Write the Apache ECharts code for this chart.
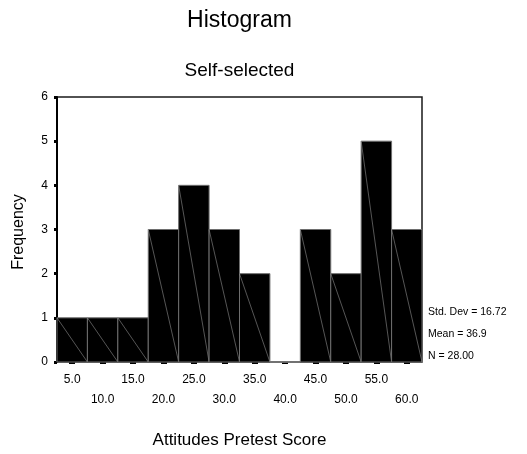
<!DOCTYPE html>
<html>
<head>
<meta charset="utf-8">
<script src="https://cdn.jsdelivr.net/npm/echarts@6/dist/echarts.min.js"></script>
<style>
  html, body { margin: 0; padding: 0; background: #fff; }
  #chart { width: 527px; height: 454px; }
</style>
</head>
<body>
<div id="chart"></div>
<script>
// Bin midpoints of the attitude score histogram and their counts
const binLabels = ['5.0', '10.0', '15.0', '20.0', '25.0', '30.0', '35.0', '40.0', '45.0', '50.0', '55.0', '60.0'];
const frequencies = [1, 1, 1, 3, 4, 3, 2, 0, 3, 2, 5, 3];
const yTicks = [0, 1, 2, 3, 4, 5, 6];
const statLines = ['Std. Dev = 16.72', 'Mean = 36.9', 'N = 28.00'];

const FONT = '"Liberation Sans", Arial, sans-serif';
const chart = echarts.init(document.getElementById('chart'), null, { renderer: 'canvas' });

const gridLeft = 57, gridTop = 97, gridRight = 105, gridBottom = 92;
const plotCenterX = gridLeft + (527 - gridLeft - gridRight) / 2;

chart.setOption({
  animation: false,
  backgroundColor: '#fff',
  grid: {
    left: gridLeft, top: gridTop, right: gridRight, bottom: gridBottom,
    show: true, borderColor: '#1a1a1a', borderWidth: 1.5, backgroundColor: 'transparent'
  },
  xAxis: {
    type: 'category',
    data: binLabels,
    boundaryGap: true,
    offset: 3,
    axisLine: { show: false },
    axisTick: { show: true, alignWithLabel: true, length: 2, lineStyle: { color: '#000', width: 6 } },
    axisLabel: {
      interval: 0, margin: 5, color: '#000', fontFamily: FONT, fontSize: 12, lineHeight: 20,
      verticalAlign: 'top',
      formatter: (v, i) => (i % 2 ? '\n' + v : v)
    },
    splitLine: { show: false }
  },
  yAxis: {
    type: 'value',
    min: yTicks[0], max: yTicks[yTicks.length - 1], interval: 1,
    axisLine: { show: true, lineStyle: { color: '#000', width: 2 } },
    axisTick: { show: true, length: 3, lineStyle: { color: '#000', width: 3 } },
    axisLabel: { margin: 9, color: '#000', fontFamily: FONT, fontSize: 12 },
    splitLine: { show: false }
  },
  series: [{
    type: 'custom',
    data: frequencies.map((f, i) => [i, f]),
    encode: { x: 0, y: 1 },
    clip: false,
    renderItem(params, api) {
      const idx = api.value(0);
      const val = api.value(1);
      const top = api.coord([idx, val]);
      const base = api.coord([idx, 0]);
      const w = api.size([1, 0])[0];
      const x0 = top[0] - w / 2;
      const x1 = top[0] + w / 2;
      return {
        type: 'group',
        children: [
          {
            type: 'rect',
            shape: { x: x0, y: top[1], width: w, height: base[1] - top[1] },
            style: { fill: '#000', stroke: '#6e6e6e', lineWidth: 1 }
          },
          {
            type: 'line',
            shape: { x1: x0, y1: top[1], x2: x1, y2: base[1] },
            style: { stroke: '#8f8f8f', lineWidth: 0.6 }
          }
        ]
      };
    }
  }],
  graphic: [
    { type: 'text', x: plotCenterX, y: 21, style: { text: 'Histogram', fill: '#000', font: '23px ' + FONT, textAlign: 'center', textVerticalAlign: 'middle' } },
    { type: 'text', x: plotCenterX, y: 71, style: { text: 'Self-selected', fill: '#000', font: '19px ' + FONT, textAlign: 'center', textVerticalAlign: 'middle' } },
    { type: 'text', x: 19, y: 232, rotation: Math.PI / 2, style: { text: 'Frequency', fill: '#000', font: '16px ' + FONT, textAlign: 'center', textVerticalAlign: 'middle' } },
    { type: 'text', x: plotCenterX, y: 440, style: { text: 'Attitudes Pretest Score', fill: '#000', font: '17px ' + FONT, textAlign: 'center', textVerticalAlign: 'middle' } },
    ...statLines.map((t, i) => ({
      type: 'text', x: 428, y: 312 + i * 22,
      style: { text: t, fill: '#000', font: '10.5px ' + FONT, textAlign: 'left', textVerticalAlign: 'middle' }
    }))
  ]
});
</script>
</body>
</html>
